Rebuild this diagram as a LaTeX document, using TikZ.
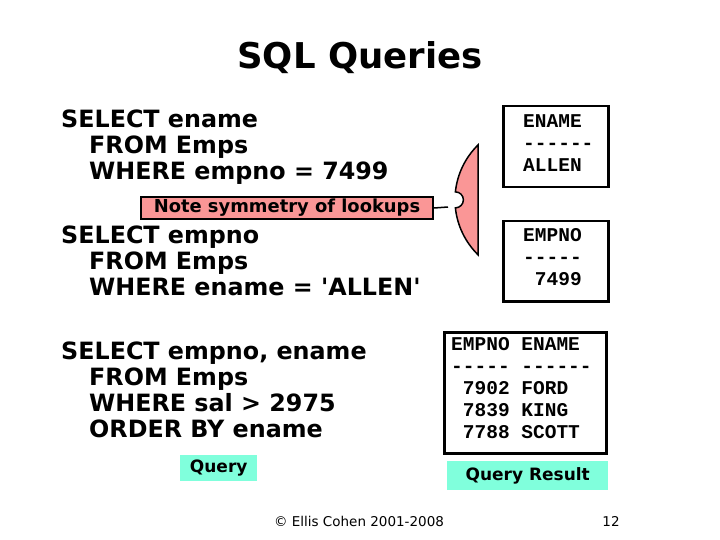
\documentclass[tikz,border=0pt]{standalone}
\usepackage{fontspec}
\setmainfont{DejaVu Sans}
\newfontfamily\codefont{Liberation Mono}
\usetikzlibrary{positioning}
\definecolor{notepink}{RGB}{250,150,150}
\definecolor{labelaqua}{RGB}{128,255,220}
\tikzset{
    sqltext/.style = {font=\bfseries\fontsize{23.8}{26}\selectfont, align=left, anchor=north west, inner sep=0pt},
    resbox/.style = {draw, line width=2.5pt, inner sep=0pt, anchor=north west},
    restext/.style = {anchor=north west, inner sep=0pt, align=left, font=\codefont\bfseries\fontsize{19.5}{22}\selectfont},
    tag/.style = {fill=labelaqua, font=\bfseries\fontsize{17}{18}\selectfont, inner sep=0pt, anchor=north west}
}
\begin{document}
\begin{tikzpicture}[x=1pt, y=-1pt]
    \useasboundingbox (0,0) rectangle (720,540);

    \node[font=\bfseries\fontsize{35.5}{40}\selectfont] (title) at (360,58) {SQL Queries};

    % queries
    \node[sqltext] (q1) at (61,110) {SELECT ename\\\hspace*{28pt}FROM Emps\\\hspace*{28pt}WHERE empno = 7499};
    \node[sqltext] (q2) at (61,226) {SELECT empno\\\hspace*{28pt}FROM Emps\\\hspace*{28pt}WHERE ename = \textquotesingle ALLEN\textquotesingle};
    \node[sqltext] (q3) at (61,342) {SELECT empno, ename\\\hspace*{28pt}FROM Emps\\\hspace*{28pt}WHERE sal > 2975\\\hspace*{28pt}ORDER BY ename};

    % results
    \node[resbox, minimum width=105pt, minimum height=81pt] (r1) at (502,105) {};
    \node[restext] (r1t) at (523,114) {ENAME\\------\\ALLEN};
    \node[resbox, minimum width=105pt, minimum height=80pt] (r2) at (502,220) {};
    \node[restext] (r2t) at (523,228) {EMPNO\\-----\\\ 7499};
    \node[resbox, minimum width=162pt, minimum height=121pt] (r3) at (443,331) {};
    \node[restext] (r3t) at (451,337) {EMPNO ENAME\\----- ------\\\ 7902 FORD\\\ 7839 KING\\\ 7788 SCOTT};

    % labels
    \node[tag, minimum width=77pt, minimum height=26pt] (qtag) at (180,455) {Query};
    \node[tag, minimum width=161pt, minimum height=29pt] (rtag) at (447,461) {Query Result};

    % note
    \filldraw[fill=notepink, line width=1.5pt] (478,145) arc[start angle=134.5, end angle=174, radius=77pt]
        arc[start angle=90, end angle=-90, radius=8pt]
        arc[start angle=186, end angle=225.5, radius=77pt] -- cycle;
    \coordinate (notch) at (448,207);
    \node[draw, fill=notepink, line width=2pt, font=\bfseries\fontsize{17.9}{18}\selectfont, minimum width=292pt, minimum height=22pt, inner sep=0pt, anchor=north west] (note) at (140,196) {Note symmetry of lookups};
    \draw[line width=1.5pt] (note.east) -- (notch);

    % footer
    \node[font=\fontsize{13.5}{16}\selectfont, inner sep=0pt] (copy) at (359,521) {© Ellis Cohen 2001-2008};
    \node[font=\fontsize{13.5}{16}\selectfont, inner sep=0pt] (page) at (611,521) {12};
\end{tikzpicture}
\end{document}
